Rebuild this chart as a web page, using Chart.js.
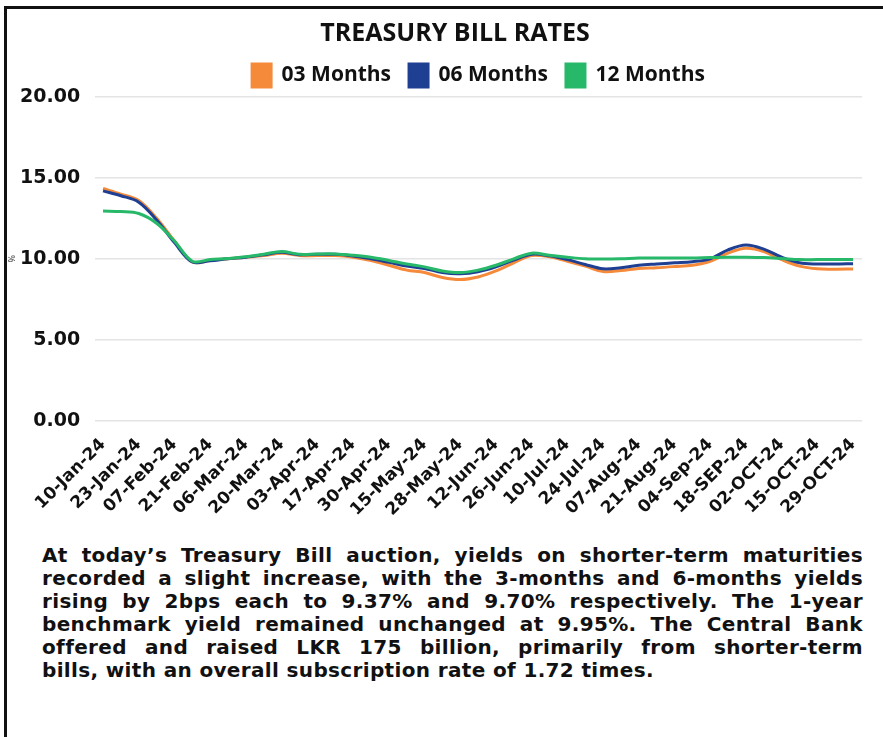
<!DOCTYPE html>
<html>
<head>
<meta charset="utf-8">
<script src="https://cdn.jsdelivr.net/npm/chart.js@4/dist/chart.umd.min.js"></script>
<style>
  body { margin: 0; background: #fff; width: 883px; height: 737px; overflow: hidden; position: relative; }
  .frame { position: absolute; left: 4px; top: 6px; right: -10px; bottom: -10px; border-top: 3px solid #111; border-left: 3px solid #111; }
  .chart-box { position: absolute; left: 0; top: 0; width: 883px; height: 526px; }
  .note { position: absolute; left: 42px; top: 544px; width: 821px; font-family: 'DejaVu Sans', sans-serif; font-weight: 700; font-size: 20px; letter-spacing: 0.35px; line-height: 23px; color: #111; }
  .note span { display: block; text-align: justify; text-align-last: justify; white-space: nowrap; }
  .note span.last { text-align-last: left; }
</style>
</head>
<body>
<div class="frame"></div>
<div class="chart-box"><canvas id="tbillChart"></canvas></div>
<div class="note">
  <span>At today’s Treasury Bill auction, yields on shorter-term maturities</span>
  <span>recorded a slight increase, with the 3-months and 6-months yields</span>
  <span>rising by 2bps each to 9.37% and 9.70% respectively. The 1-year</span>
  <span>benchmark yield remained unchanged at 9.95%. The Central Bank</span>
  <span>offered and raised LKR 175 billion, primarily from shorter-term</span>
  <span class="last">bills, with an overall subscription rate of 1.72 times.</span>
</div>
<script>
// ป้ายแกน X (แสดงทุก ๆ 2 สัปดาห์)
const tickLabels = ['10-Jan-24', '23-Jan-24', '07-Feb-24', '21-Feb-24', '06-Mar-24', '20-Mar-24',
  '03-Apr-24', '17-Apr-24', '30-Apr-24', '15-May-24', '28-May-24', '12-Jun-24', '26-Jun-24',
  '10-Jul-24', '24-Jul-24', '07-Aug-24', '21-Aug-24', '04-Sep-24', '18-SEP-24', '02-OCT-24',
  '15-OCT-24', '29-OCT-24'];

// อัตราผลตอบแทนรายสัปดาห์ (%)
const rates3m = [14.35, 14.0, 13.6, 12.5, 11.1, 9.8, 9.9, 10.0, 10.1, 10.2, 10.35, 10.2, 10.2, 10.2, 10.1,
  9.9, 9.6, 9.3, 9.15, 8.85, 8.72, 8.88, 9.25, 9.75, 10.2, 10.12, 9.85, 9.55, 9.22, 9.27, 9.4, 9.45,
  9.52, 9.6, 9.85, 10.35, 10.65, 10.45, 9.95, 9.55, 9.38, 9.36, 9.37];
const rates6m = [14.2, 13.9, 13.5, 12.4, 11.0, 9.8, 9.88, 10.0, 10.1, 10.25, 10.4, 10.25, 10.28, 10.28, 10.18,
  10.0, 9.78, 9.55, 9.4, 9.15, 9.08, 9.2, 9.5, 9.92, 10.28, 10.18, 9.95, 9.65, 9.38, 9.45, 9.6, 9.68,
  9.75, 9.82, 10.0, 10.55, 10.85, 10.6, 10.1, 9.75, 9.68, 9.68, 9.7];
const rates12m = [12.95, 12.92, 12.8, 12.2, 11.1, 9.85, 9.95, 10.02, 10.12, 10.28, 10.45, 10.28, 10.3, 10.3, 10.22,
  10.1, 9.9, 9.68, 9.5, 9.25, 9.15, 9.3, 9.6, 10.0, 10.35, 10.22, 10.1, 10.0, 9.98, 10.0, 10.05, 10.05,
  10.05, 10.05, 10.08, 10.1, 10.1, 10.08, 10.02, 9.95, 9.95, 9.95, 9.95];

const seriesNames = ['03 Months', '06 Months', '12 Months'];
const seriesColors = ['#f58a3a', '#1f3f93', '#27b86a'];

const FONT = "'Open Sans', sans-serif";
const TICK_FONT = "'DejaVu Sans', sans-serif";

function toPoints(values) {
  return values.map((v, i) => ({ x: i, y: v }));
}

const ctx = document.getElementById('tbillChart').getContext('2d');
new Chart(ctx, {
  type: 'line',
  data: {
    datasets: [rates3m, rates6m, rates12m].map((vals, i) => ({
      label: seriesNames[i],
      data: toPoints(vals),
      borderColor: seriesColors[i],
      backgroundColor: seriesColors[i],
      borderWidth: 3,
      pointRadius: 0,
      tension: 0.35,
      order: 3 - i // ให้เส้นสีเขียวอยู่บนสุด
    }))
  },
  options: {
    responsive: true,
    maintainAspectRatio: false,
    animation: false,
    layout: { padding: { left: 48, right: 21, top: 0, bottom: 0 } },
    plugins: {
      title: {
        display: true,
        text: 'TREASURY BILL RATES',
        color: '#111',
        font: { family: FONT, size: 25, weight: 'bold', lineHeight: 1 },
        padding: { top: 21, bottom: 0 }
      },
      legend: {
        display: true,
        position: 'top',
        fullSize: false,
        labels: {
          color: '#111',
          font: { family: FONT, size: 21, weight: 'bold' },
          boxWidth: 19,
          boxHeight: 23,
          padding: 18,
          sort: (a, b) => a.datasetIndex - b.datasetIndex
        }
      },
      tooltip: { enabled: false }
    },
    scales: {
      x: {
        type: 'linear',
        min: -0.45,
        max: 42.5,
        afterBuildTicks: (axis) => {
          axis.ticks = tickLabels.map((_, i) => ({ value: i * 2 }));
        },
        ticks: {
          autoSkip: false,
          minRotation: 45,
          maxRotation: 45,
          padding: 6,
          color: '#111',
          font: { family: TICK_FONT, size: 17, weight: 'bold' },
          callback: (value) => tickLabels[value / 2] || ''
        },
        grid: { display: false },
        border: { display: false }
      },
      y: {
        min: 0,
        max: 20,
        // ความกว้างแกน Y คงที่ ให้ชื่อกราฟอยู่กึ่งกลางตามต้นฉบับ
        afterFit: (axis) => { axis.width = 47; },
        ticks: {
          stepSize: 5,
          mirror: true,
          crossAlign: 'far',
          padding: -75,
          color: '#111',
          font: { family: TICK_FONT, size: 19, weight: 'bold' },
          callback: (value) => value.toFixed(2)
        },
        grid: { color: '#e4e4e4', lineWidth: 1.5, drawTicks: false },
        border: { display: false },
        title: {
          display: true,
          text: '%',
          color: '#333',
          font: { family: FONT, size: 9 },
          padding: { top: -41, bottom: 0 }
        }
      }
    }
  }
});
</script>
</body>
</html>
